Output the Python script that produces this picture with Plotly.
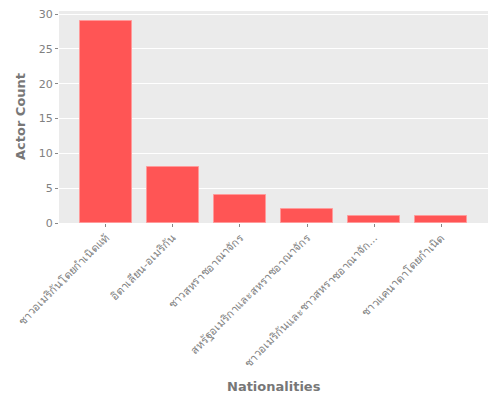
import plotly.graph_objects as go

nationalities = [
    "ชาวอเมริกันโดยกำเนิดแท้",
    "อิตาเลียน-อเมริกัน",
    "ชาวสหราชอาณาจักร",
    "สหรัฐอเมริกาและสหราชอาณาจักร",
    "ชาวอเมริกันและชาวสหราชอาณาจัก...",
    "ชาวแคนาดาโดยกำเนิด",
]
actor_counts = [29, 8, 4, 2, 1, 1]
y_ticks = [0, 5, 10, 15, 20, 25, 30]
x_title = "Nationalities"
y_title = "Actor Count"

fig = go.Figure(
    go.Bar(
        x=list(range(len(nationalities))),
        y=actor_counts,
        width=0.78,
        marker=dict(color="#FF5555", line=dict(color="#FF9A9A", width=1)),
    )
)

title_font = dict(family="DejaVu Sans", size=13, color="#777777", weight="bold")

fig.update_layout(
    width=500,
    height=400,
    margin=dict(l=59, r=12, t=11, b=177),
    paper_bgcolor="white",
    plot_bgcolor="#EBEBEB",
    font=dict(family="DejaVu Sans", color="#777777", size=10),
    showlegend=False,
    bargap=0,
    annotations=[
        dict(text=x_title, xref="paper", yref="paper", x=0.5, y=0,
             xanchor="center", yanchor="middle", yshift=-163,
             showarrow=False, font=title_font),
        dict(text=y_title, xref="paper", yref="paper", x=0, y=0.5,
             xanchor="center", yanchor="middle", xshift=-39, textangle=-90,
             showarrow=False, font=title_font),
    ],
)
fig.update_xaxes(
    automargin=False,
    range=[-0.7, 5.7],
    tickmode="array",
    tickvals=list(range(len(nationalities))),
    ticktext=nationalities,
    tickangle=-45,
    ticks="outside",
    ticklen=3,
    tickcolor="#888888",
    showgrid=False,
    zeroline=False,
    ticklabeloverflow="allow",
    tickfont=dict(size=11, color="#808080"),
)
fig.update_yaxes(
    automargin=False,
    range=[0, 30.45],
    tickmode="array",
    tickvals=y_ticks,
    ticks="outside",
    ticklen=3,
    tickcolor="#888888",
    showgrid=True,
    gridcolor="white",
    gridwidth=1,
    zeroline=False,
    ticklabeloverflow="allow",
    tickfont=dict(size=11, color="#808080"),
)

fig.write_html(
    "out.html",
    config={"displayModeBar": False},
    post_script="document.body.style.margin='0';document.body.style.overflow='hidden';",
)
